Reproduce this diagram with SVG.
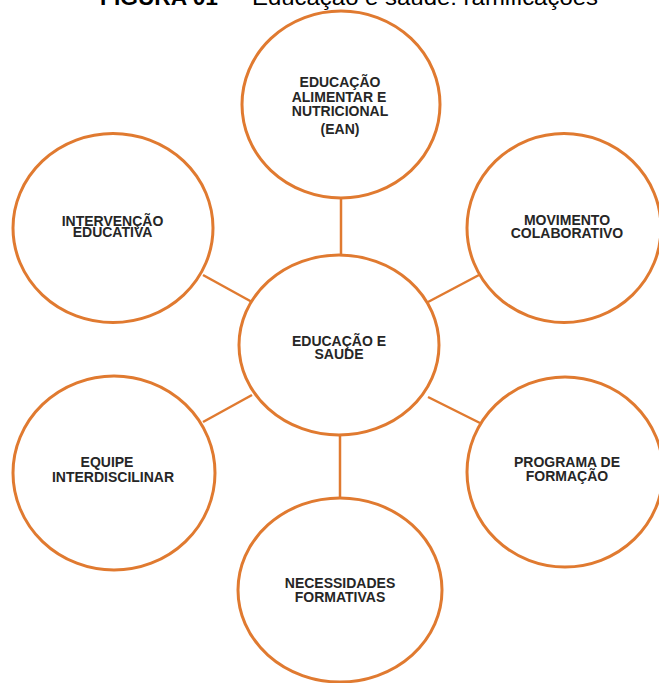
<svg xmlns="http://www.w3.org/2000/svg" width="659" height="683" viewBox="0 0 659 683">
<style>
.node ellipse{fill:#fff;stroke:#E07A30;stroke-width:3}
.conn line{stroke:#E07A30;stroke-width:2.5}
.lbl{font-family:"Liberation Sans",Arial,sans-serif;font-weight:bold;font-size:14px;fill:#262626;text-anchor:middle}
.ttl{font-family:"Liberation Sans",Arial,sans-serif;font-size:22px;fill:#000}
</style>
<rect width="659" height="683" fill="#fff"/>
<g id="title">
<text class="ttl" x="100" y="5" font-weight="bold" textLength="118" lengthAdjust="spacingAndGlyphs">FIGURA 01</text>
<text class="ttl" x="232" y="5" textLength="366" lengthAdjust="spacingAndGlyphs">– Educação e saúde: ramificações</text>
</g>
<g id="connectors" class="conn">
<line x1="341" y1="197" x2="341" y2="256"/>
<line x1="340" y1="434" x2="340" y2="499"/>
<line x1="203" y1="275" x2="252" y2="302"/>
<line x1="479" y1="275" x2="428" y2="302"/>
<line x1="203" y1="422" x2="252" y2="395"/>
<line x1="480" y1="423" x2="428" y2="397"/>
</g>
<g id="center" class="node">
<ellipse cx="339" cy="345" rx="100" ry="90"/>
<text class="lbl" x="339" y="346">EDUCAÇÃO E</text>
<text class="lbl" x="339" y="359">SAUDE</text>
</g>
<g id="ean" class="node">
<ellipse cx="341" cy="104.5" rx="99" ry="93.5"/>
<text class="lbl" x="340" y="87">EDUCAÇÃO</text>
<text class="lbl" x="339" y="102">ALIMENTAR E</text>
<text class="lbl" x="340" y="116">NUTRICIONAL</text>
<text class="lbl" x="340" y="134">(EAN)</text>
</g>
<g id="intervencao" class="node">
<ellipse cx="113" cy="228" rx="100" ry="94.5"/>
<text class="lbl" x="112.5" y="226">INTERVENÇÃO</text>
<text class="lbl" x="112.5" y="237">EDUCATIVA</text>
</g>
<g id="movimento" class="node">
<ellipse cx="564" cy="228" rx="97" ry="94.5"/>
<text class="lbl" x="567" y="225">MOVIMENTO</text>
<text class="lbl" x="567" y="238">COLABORATIVO</text>
</g>
<g id="equipe" class="node">
<ellipse cx="114" cy="473" rx="101" ry="97"/>
<text class="lbl" x="107" y="467">EQUIPE</text>
<text class="lbl" x="113" y="482">INTERDISCILINAR</text>
</g>
<g id="programa" class="node">
<ellipse cx="565" cy="472" rx="98" ry="95"/>
<text class="lbl" x="567" y="467">PROGRAMA DE</text>
<text class="lbl" x="567" y="481">FORMAÇÃO</text>
</g>
<g id="necessidades" class="node">
<ellipse cx="340" cy="590" rx="102" ry="92"/>
<text class="lbl" x="340" y="588">NECESSIDADES</text>
<text class="lbl" x="340" y="602">FORMATIVAS</text>
</g>
</svg>
